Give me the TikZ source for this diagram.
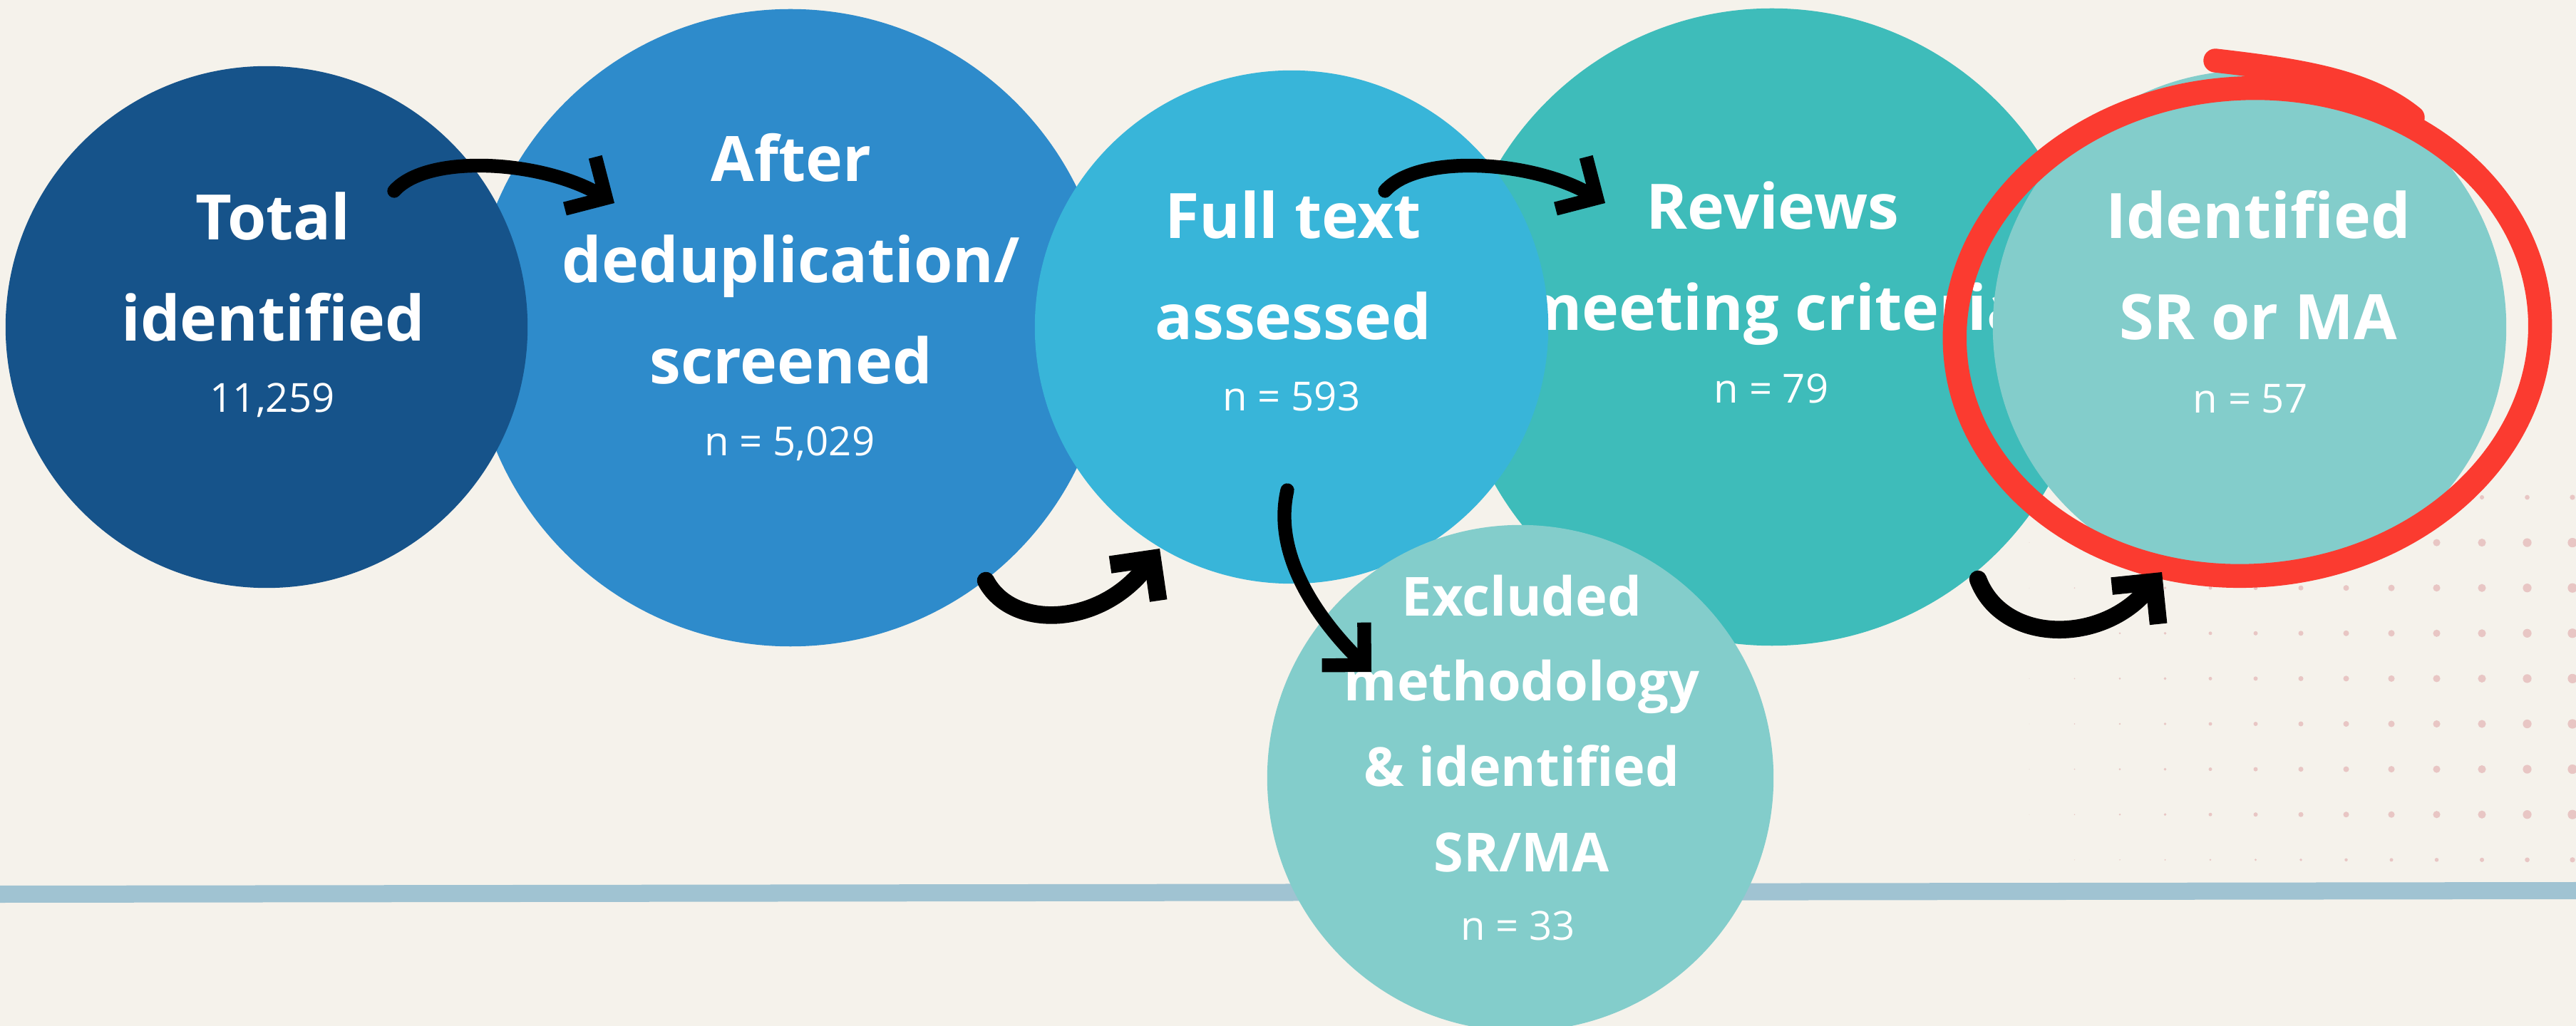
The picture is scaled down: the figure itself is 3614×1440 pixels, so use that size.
\documentclass[tikz,border=0pt]{standalone}
\usepackage{fontspec}
\setmainfont{Open Sans}
\newfontfamily\headfont{Open Sans}
\usetikzlibrary{arrows.meta}

\definecolor{paper}{HTML}{F5F2EB}
\definecolor{navy}{HTML}{16538A}
\definecolor{midblue}{HTML}{2E8BCB}
\definecolor{skyblue}{HTML}{38B5D9}
\definecolor{teal}{HTML}{3EBCBA}
\definecolor{paleteal}{HTML}{83CDCB}
\definecolor{ringred}{HTML}{FB3B30}
\definecolor{rulegrey}{HTML}{A0C3D2}
\definecolor{dotpink}{HTML}{E8C6C4}

\tikzset{bubble/.style = {circle, inner sep=0pt, minimum size=#1},
         title/.style = {anchor=base, align=center, text=white, inner sep=0pt,
                         font=\headfont\bfseries\fontsize{25}{40.5}\selectfont},
         small title/.style = {font=\headfont\bfseries\fontsize{21.5}{34}\selectfont},
         count/.style = {anchor=base, text=white, inner sep=0pt,
                         font=\fontsize{16}{19}\selectfont},
         sketchy/.style = {line width=5.5pt, line cap=round, black,
                           -{Straight Barb[length=12pt, width=24pt]}},
         ring/.style = {line width=9.5pt, line cap=round, ringred}}

\begin{document}
\begin{tikzpicture}[x=0.01cm, y=-0.01cm]
      \fill [paper] (0, 0) rectangle (3614, 1440);
      \useasboundingbox (0, 0) rectangle (3614, 1440);
      \foreach \i in {0,...,12}
        \foreach \j in {0,...,8}{
          \pgfmathsetmacro\dotr{(0.4+0.52*\i)*ifthenelse(or(\j==0,\j==8),0.55,1)}
          \fill [dotpink] (2847+63.5*\i, 698+63.6*\j) circle [radius=\dotr];
        }
      \draw [line width=0.24cm, rulegrey] (0, 1255) -- (3614, 1250);

      \node [bubble=8.94cm, fill=midblue] (screened) at (1109, 460) {};
      \node [title] (screenedT) at (1110, 539) {After\\deduplication/\\screened};
      \node [count] (screenedN) at (1108, 640) {n = 5,029};

      \node [bubble=7.32cm, fill=navy] (total) at (374, 459) {};
      \node [title] (totalT) at (383, 479) {Total\\identified};
      \node [count] (totalN) at (382, 579) {11,259};

      \node [bubble=8.94cm, fill=teal] (reviews) at (2486, 459) {};
      \node [title] (reviewsT) at (2487, 464) {Reviews\\meeting criteria};
      \node [count] (reviewsN) at (2485, 566) {n = 79};

      \node [bubble=7.2cm, fill=skyblue] (fulltext) at (1812, 459) {};
      \node [title] (fulltextT) at (1814, 477) {Full text\\assessed};
      \node [count] (fulltextN) at (1812, 577) {n = 593};

      \node [bubble=7.2cm, fill=paleteal] (srma) at (3156, 459) {};
      \node [title] (srmaT) at (3168, 477) {Identified\\SR or MA};
      \node [count] (srmaN) at (3157, 580) {n = 57};

      \coordinate (ringc) at (3153, 466);
      \draw [ring, rotate around={4:(ringc)}] (ringc) ellipse [x radius=411, y radius=342];
      \draw [ring] (3108, 85) .. controls (3220, 98) and (3320, 112) .. (3385, 165);

      \node [bubble=7.1cm, fill=paleteal] (excluded) at (2133, 1092) {};
      \node [title, small title] (excludedT) at (2135, 1223) {Excluded\\methodology\\\& identified\\SR/MA};
      \node [count] (excludedN) at (2130, 1319) {n = 33};

      \coordinate (a1) at (553, 268);   \coordinate (b1) at (862, 285);
      \coordinate (a2) at (1383, 815);  \coordinate (b2) at (1627, 770);
      \coordinate (a3) at (1943, 268);  \coordinate (b3) at (2252, 285);
      \coordinate (a4) at (1806, 688);  \coordinate (b4) at (1924, 943);
      \coordinate (a5) at (2775, 813);  \coordinate (b5) at (3033, 803);
      \draw [sketchy] (a1) .. controls (600, 215) and (760, 225) .. (b1);
      \draw [sketchy, line width=7pt] (a2) .. controls (1420, 885) and (1545, 880) .. (b2);
      \draw [sketchy] (a3) .. controls (1990, 215) and (2150, 225) .. (b3);
      \draw [sketchy] (a4) .. controls (1785, 780) and (1850, 870) .. (b4);
      \draw [sketchy, line width=7pt] (a5) .. controls (2810, 905) and (2950, 905) .. (b5);
\end{tikzpicture}
\end{document}
